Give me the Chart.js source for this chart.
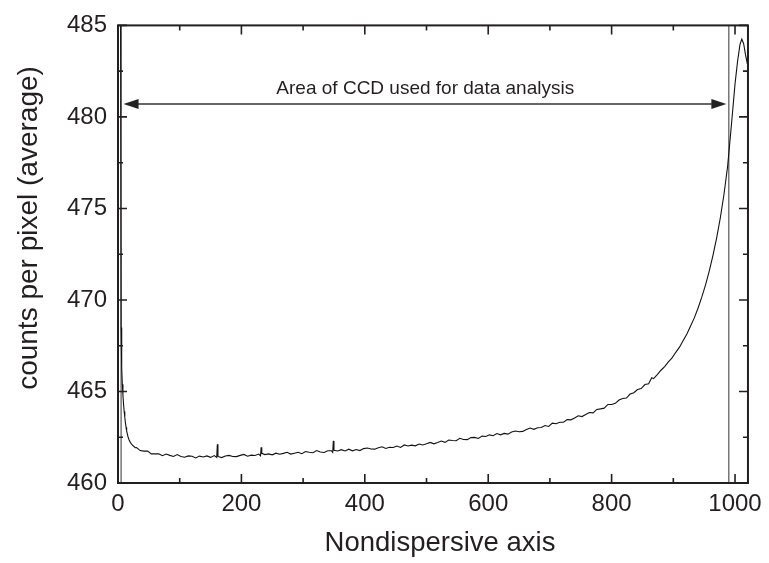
<!DOCTYPE html>
<html>
<head>
<meta charset="utf-8">
<script src="https://cdn.jsdelivr.net/npm/chart.js@4.4.0/dist/chart.umd.min.js"></script>
<style>
html,body{margin:0;padding:0;background:#fff;}
#wrap{width:769px;height:563px;}
</style>
</head>
<body>
<div id="wrap"><canvas id="c" width="769" height="563"></canvas></div>
<script>
// ---- data ----
const pixelX = [4,4.5,5,6,7,8,9,10,11,12,13,14,16,18,20,22,25,28,
30,36,42,48,54,60,66,72,78,84,90,96,102,108,114,120,126,132,138,144,150,156,160,161,162,168,174,180,186,192,198,
204,210,216,222,228,231,232,233,238,244,250,256,262,268,274,280,286,292,298,304,310,316,322,328,334,340,346,348,349,350,
356,362,368,374,380,386,392,398,404,410,416,422,428,434,440,446,452,458,464,470,476,482,488,494,500,
506,512,518,524,530,536,542,548,554,560,566,572,578,584,590,596,602,608,614,620,626,632,638,644,650,
656,662,668,674,680,686,692,698,704,710,716,722,728,734,740,746,752,758,764,770,776,782,788,794,800,
806,812,818,824,830,836,842,848,854,860,865,868,874,880,886,892,898,904,910,916,922,928,934,940,946,
952,958,964,970,976,982,988,994,1000,1004,1008,1011,1014,1017,1020];
const counts = [490,479,468.5,466.3,465.4,464.8,464.3,463.9,463.6,463.3,463.05,462.85,462.55,462.35,462.22,462.12,462.02,461.93,
461.94,461.77,461.74,461.74,461.59,461.59,461.60,461.49,461.58,461.51,461.45,461.55,461.45,461.41,461.48,461.46,461.37,461.47,461.42,461.48,461.40,461.50,461.40,462.12,461.45,461.39,461.48,461.51,461.45,461.44,461.51,
461.56,461.46,461.52,461.50,461.58,461.49,461.95,461.62,461.55,461.59,461.54,461.63,461.57,461.62,461.68,461.58,461.63,461.68,461.60,461.72,461.68,461.65,461.77,461.69,461.67,461.76,461.76,461.68,462.30,461.79,
461.75,461.82,461.75,461.85,461.76,461.83,461.77,461.88,461.91,461.86,461.85,461.93,461.98,461.89,461.95,461.94,462.02,461.94,462.08,462.02,462.07,462.03,462.13,462.08,462.14,
462.22,462.14,462.21,462.29,462.22,462.35,462.32,462.31,462.44,462.38,462.37,462.48,462.49,462.43,462.56,462.54,462.63,462.58,462.70,462.63,462.71,462.67,462.79,462.84,462.80,
462.82,462.92,463.00,462.93,463.02,463.03,463.14,463.09,463.27,463.24,463.32,463.32,463.46,463.45,463.55,463.67,463.63,463.74,463.85,463.83,464.02,464.05,464.09,464.29,464.29,
464.35,464.53,464.62,464.64,464.86,464.93,465.11,465.16,465.38,465.42,465.75,465.70,465.92,466.16,466.36,466.62,466.84,467.14,467.42,467.78,468.14,468.58,469.02,469.55,470.14,
470.80,471.55,472.40,473.35,474.45,475.75,477.30,479.50,481.80,483.00,483.95,484.25,484.00,483.40,482.90];

const boundaryX = [5, 990];            // vertical markers of the used CCD area
const arrowFromX = [9], arrowToX = [986], arrowY = [480.7];
const annotationText = ['Area of CCD used for data analysis'];
const annotationX = [498], annotationY = [481.25];

const xTickValues = [0,200,400,600,800,1000];
const yTickValues = [460,465,470,475,480,485];
const xTitle = 'Nondispersive axis';
const yTitle = 'counts per pixel (average)';

// ---- chart ----
const INK = '#231f20';
const FONT = "'Liberation Sans', Arial, Helvetica, sans-serif";

const curve = pixelX.map((x,i)=>({x:x, y:counts[i]}));
const vlineSets = boundaryX.map(b => ({
  data: [{x:b, y:yTickValues[0]}, {x:b, y:yTickValues[yTickValues.length-1]}],
  borderColor: '#333', borderWidth: 1, pointRadius: 0, fill:false
}));

const framePlugin = {
  id: 'frame',
  afterDraw(chart) {
    const {ctx, chartArea:a, scales:{x, y}} = chart;
    ctx.save();
    // arrow
    const ay = y.getPixelForValue(arrowY[0]);
    const ax1 = x.getPixelForValue(arrowFromX[0]);
    const ax2 = x.getPixelForValue(arrowToX[0]);
    const hl = 15, hw = 5;
    ctx.strokeStyle = '#333'; ctx.fillStyle = '#222'; ctx.lineWidth = 1.5;
    ctx.beginPath(); ctx.moveTo(ax1 + hl - 1, ay); ctx.lineTo(ax2 - hl + 1, ay); ctx.stroke();
    ctx.beginPath(); ctx.moveTo(ax1, ay); ctx.lineTo(ax1 + hl, ay - hw); ctx.lineTo(ax1 + hl, ay + hw); ctx.closePath(); ctx.fill();
    ctx.beginPath(); ctx.moveTo(ax2, ay); ctx.lineTo(ax2 - hl, ay - hw); ctx.lineTo(ax2 - hl, ay + hw); ctx.closePath(); ctx.fill();
    // annotation text
    ctx.fillStyle = INK;
    ctx.font = "19px " + FONT;
    ctx.textAlign = 'center'; ctx.textBaseline = 'alphabetic';
    ctx.fillText(annotationText[0], x.getPixelForValue(annotationX[0]), y.getPixelForValue(annotationY[0]));
    // axis titles
    ctx.textBaseline = 'middle';
    ctx.font = "27.5px " + FONT;
    ctx.fillText(xTitle, 440, 543);
    ctx.save();
    ctx.translate(29, 228);
    ctx.rotate(-Math.PI / 2);
    ctx.font = "28px " + FONT;
    ctx.fillText(yTitle, 0, 0);
    ctx.restore();
    // frame
    ctx.strokeStyle = INK; ctx.lineWidth = 2;
    ctx.strokeRect(a.left, a.top, a.right - a.left, a.bottom - a.top);
    // inward ticks on all sides
    ctx.lineWidth = 1.6;
    const major = 9, minor = 5;
    const xs = x.ticks.map(t => t.value);
    const xStep = xs[1] - xs[0];
    ctx.beginPath();
    xs.forEach(v => {
      const p = x.getPixelForValue(v);
      ctx.moveTo(p, a.bottom); ctx.lineTo(p, a.bottom - major);
      ctx.moveTo(p, a.top); ctx.lineTo(p, a.top + major);
      const m = v + xStep / 2;
      if (m <= x.max) {
        const q = x.getPixelForValue(m);
        ctx.moveTo(q, a.bottom); ctx.lineTo(q, a.bottom - minor);
        ctx.moveTo(q, a.top); ctx.lineTo(q, a.top + minor);
      }
    });
    const ys = y.ticks.map(t => t.value);
    const yStep = ys[1] - ys[0];
    ys.forEach(v => {
      const p = y.getPixelForValue(v);
      ctx.moveTo(a.left, p); ctx.lineTo(a.left + major, p);
      ctx.moveTo(a.right, p); ctx.lineTo(a.right - major, p);
      const m = v + yStep / 2;
      if (m < y.max) {
        const q = y.getPixelForValue(m);
        ctx.moveTo(a.left, q); ctx.lineTo(a.left + minor, q);
        ctx.moveTo(a.right, q); ctx.lineTo(a.right - minor, q);
      }
    });
    ctx.stroke();
    ctx.restore();
  }
};

new Chart(document.getElementById('c'), {
  type: 'line',
  data: {
    datasets: [
      { data: curve, borderColor: '#111', borderWidth: 1.1, pointRadius: 0, fill: false, tension: 0 },
      ...vlineSets
    ]
  },
  options: {
    responsive: false,
    devicePixelRatio: 1,
    animation: false,
    events: [],
    layout: { padding: { top: 16, right: 14, left: 0, bottom: 0 } },
    plugins: { legend: { display: false }, tooltip: { enabled: false } },
    scales: {
      x: {
        type: 'linear', min: 0, max: 1021,
        grid: { display: false, drawTicks: false },
        border: { display: false },
        afterBuildTicks: s => { s.ticks = xTickValues.map(v => ({value: v})); },
        afterFit: s => { s.height = 80; },
        ticks: { color: INK, font: { family: FONT, size: 24 }, padding: 7, maxRotation: 0, autoSkip: false,
                 callback: v => String(v) },
        title: { display: false }
      },
      y: {
        type: 'linear', min: 460, max: 485,
        grid: { display: false, drawTicks: false },
        border: { display: false },
        afterBuildTicks: s => { s.ticks = yTickValues.map(v => ({value: v})); },
        afterFit: s => { s.width = 118; },
        ticks: { color: INK, font: { family: FONT, size: 24 }, padding: 11, autoSkip: false,
                 callback: v => String(v) },
        title: { display: false }
      }
    }
  },
  plugins: [framePlugin]
});
</script>
</body>
</html>
